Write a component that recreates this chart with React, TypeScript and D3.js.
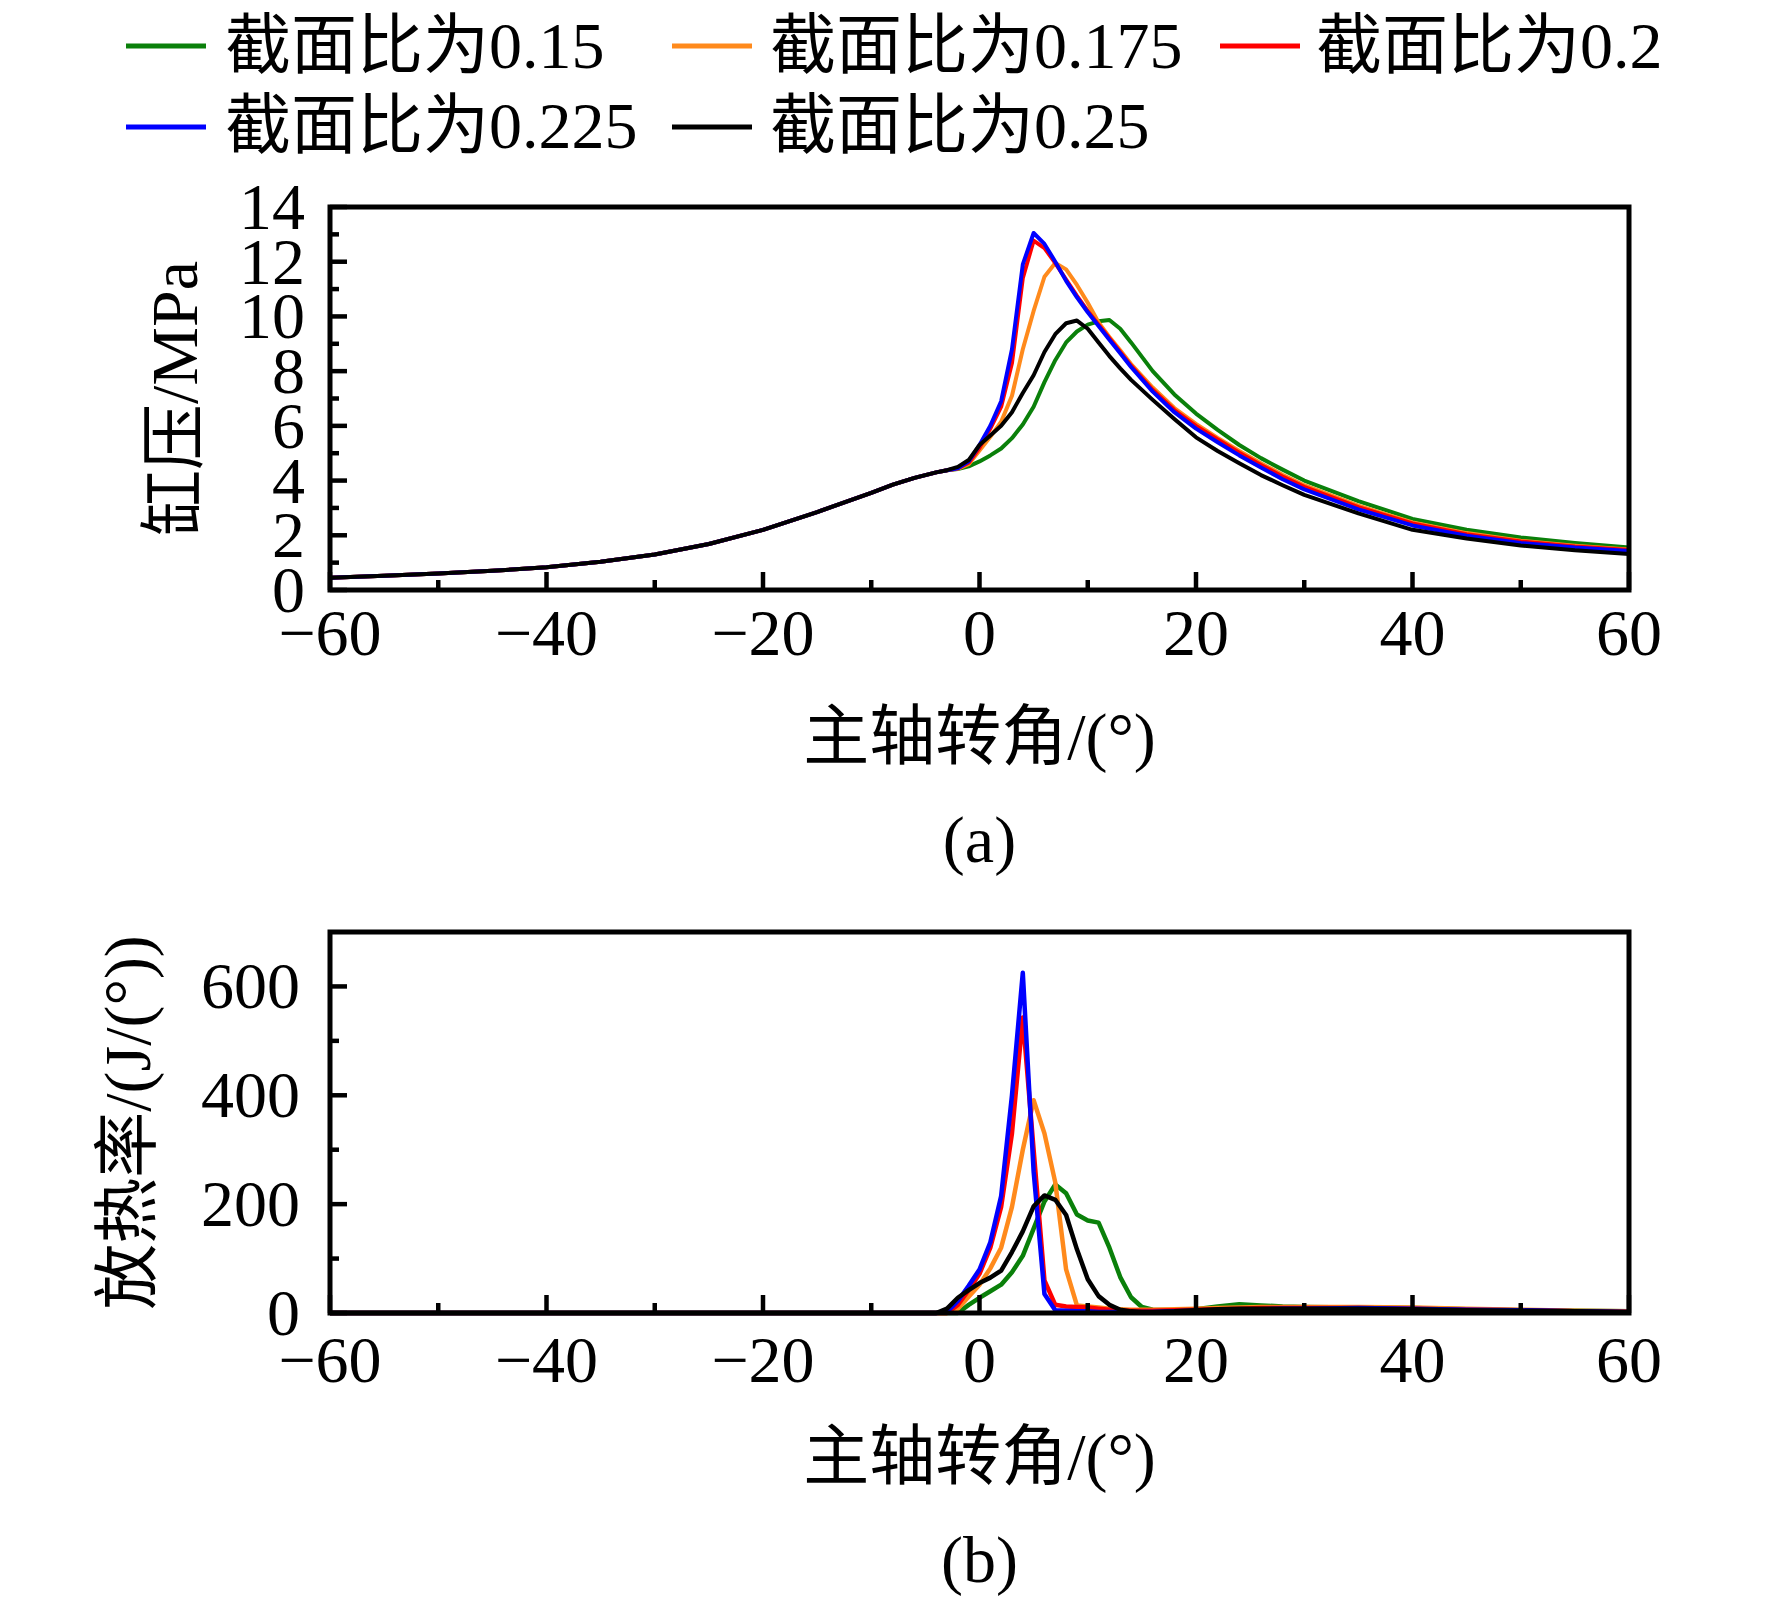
import React from 'react';
import * as d3 from 'd3';

// ---------- data ----------
const seriesNames = ['截面比为0.15', '截面比为0.175', '截面比为0.2', '截面比为0.225', '截面比为0.25'];
const seriesColors = ['#0a800a', '#ff8a1c', '#ff0000', '#0000ff', '#000000'];

// crank angle (°) for cylinder pressure curves
const anglesA = [-60, -55, -50, -45, -40, -35, -30, -25, -20, -15, -10, -8, -6, -4, -3, -2, -1,
  0, 1, 2, 3, 4, 5, 6, 7, 8, 9, 10, 11, 12, 13, 14, 16, 18, 20, 22, 24, 26, 28, 30, 35, 40, 45, 50, 55, 60];

// cylinder pressure (MPa)
const pressure015 = [0.45, 0.52, 0.6, 0.7, 0.83, 1.03, 1.3, 1.68, 2.2, 2.85, 3.55, 3.85, 4.1, 4.3, 4.38, 4.42, 4.52,
  4.7, 4.92, 5.17, 5.55, 6.05, 6.7, 7.6, 8.4, 9.05, 9.45, 9.7, 9.82, 9.87, 9.55, 9.05, 8.0, 7.15, 6.45, 5.85, 5.3, 4.82, 4.4, 4.0,
  3.25, 2.6, 2.2, 1.92, 1.72, 1.55];
const pressure0175 = [0.45, 0.52, 0.6, 0.7, 0.83, 1.03, 1.3, 1.68, 2.2, 2.85, 3.55, 3.85, 4.1, 4.3, 4.38, 4.43, 4.6,
  5.1, 5.6, 6.15, 7.1, 8.8, 10.2, 11.45, 11.95, 11.72, 11.15, 10.5, 9.78, 9.25, 8.76, 8.26, 7.4, 6.65, 6.07, 5.56, 5.08, 4.63, 4.21, 3.83,
  3.08, 2.47, 2.08, 1.8, 1.62, 1.48];
const pressure02 = [0.45, 0.52, 0.6, 0.7, 0.83, 1.03, 1.3, 1.68, 2.2, 2.85, 3.55, 3.85, 4.1, 4.3, 4.38, 4.45, 4.65,
  5.2, 5.9, 6.7, 8.3, 11.4, 12.77, 12.5, 11.95, 11.35, 10.75, 10.2, 9.7, 9.2, 8.7, 8.2, 7.32, 6.58, 6.0, 5.5, 5.02, 4.57, 4.15, 3.77,
  3.03, 2.43, 2.04, 1.77, 1.59, 1.46];
const pressure0225 = [0.45, 0.52, 0.6, 0.7, 0.83, 1.03, 1.3, 1.68, 2.2, 2.85, 3.55, 3.85, 4.1, 4.3, 4.38, 4.45, 4.7,
  5.3, 6.0, 6.9, 8.8, 11.9, 13.05, 12.65, 12.0, 11.3, 10.7, 10.15, 9.65, 9.15, 8.65, 8.15, 7.25, 6.5, 5.9, 5.4, 4.92, 4.48, 4.05, 3.68,
  2.95, 2.36, 1.98, 1.72, 1.55, 1.43];
const pressure025 = [0.45, 0.52, 0.6, 0.7, 0.83, 1.03, 1.3, 1.68, 2.2, 2.85, 3.55, 3.85, 4.1, 4.3, 4.38, 4.5, 4.75,
  5.3, 5.65, 6.0, 6.5, 7.2, 7.85, 8.7, 9.35, 9.75, 9.85, 9.55, 9.05, 8.55, 8.1, 7.68, 6.95, 6.25, 5.58, 5.08, 4.63, 4.2, 3.83, 3.48,
  2.8, 2.2, 1.88, 1.63, 1.45, 1.32];

// crank angle (°) for heat release rate curves
const anglesB = [-60, -5, -4, -3, -2, -1,
  0, 1, 2, 3, 4, 5, 6, 7, 8, 9, 10, 11, 12, 13, 14, 15, 16, 18, 20, 22, 24, 26, 28, 30, 35, 40, 45, 50, 55, 60];

// heat release rate (J/(°))
const heat015 = [0, 0, 0, 0, 0, 15,
  28, 40, 52, 75, 105, 155, 205, 236, 220, 181, 170, 166, 120, 66, 29, 11, 6, 5, 7, 12, 16, 14, 12, 11, 10, 9, 7, 5, 4, 3];
const heat0175 = [0, 0, 0, 0, 8, 30,
  52, 82, 120, 195, 300, 391, 330, 240, 80, 14, 12, 10, 8, 7, 6, 6, 6, 7, 8, 9, 10, 11, 11, 11, 11, 10, 8, 6, 4, 3];
const heat02 = [0, 0, 0, 0, 15, 42,
  72, 120, 195, 330, 543, 300, 60, 15, 12, 11, 10, 8, 6, 5, 4, 4, 4, 5, 6, 7, 8, 9, 9, 9, 9, 8, 6, 5, 3, 2];
const heat0225 = [0, 0, 0, 2, 22, 50,
  80, 130, 215, 400, 625, 260, 35, 5, 4, 3, 3, 2, 2, 2, 2, 2, 2, 3, 4, 5, 6, 7, 8, 8, 9, 8, 6, 5, 3, 2];
const heat025 = [0, 0, 0, 8, 28, 42,
  55, 65, 78, 112, 150, 196, 216, 208, 180, 117, 62, 31, 15, 6, 3, 2, 2, 3, 5, 7, 8, 8, 8, 8, 8, 7, 5, 4, 3, 2];

const xTicksMajor = [-60, -40, -20, 0, 20, 40, 60];
const xTicksMinor = [-50, -30, -10, 10, 30, 50];
const yTicksMajorA = [0, 2, 4, 6, 8, 10, 12, 14];
const yTicksMinorA = [1, 3, 5, 7, 9, 11, 13];
const yTicksMajorB = [0, 200, 400, 600];
const yTicksMinorB = [100, 300, 500];

const pressureSeries = [pressure015, pressure0175, pressure02, pressure0225, pressure025];
const heatSeries = [heat015, heat0175, heat02, heat0225, heat025];

// ---------- layout ----------
const W = 1772;
const H = 1605;
const FONT = '"Liberation Serif", "Times New Roman", "Noto Sans CJK SC", serif';
const fmt = d3.format('');

type PanelProps = {
  angles: number[];
  series: number[][];
  yDomain: [number, number];
  top: number;
  bottom: number;
  yMajor: number[];
  yMinor: number[];
  yLabelRight: number;
  yTitle: string;
  yTitleX: number;
  xLabelBaseline: number;
  xTitleBaseline: number;
  caption: string;
  captionBaseline: number;
  lineWidth: number;
};

const Panel: React.FC<PanelProps> = (p) => {
  const x = d3.scaleLinear().domain([-60, 60]).range([330, 1629]);
  const y = d3.scaleLinear().domain(p.yDomain).range([p.bottom, p.top]);
  const line = d3.line<[number, number]>().x((d) => x(d[0])).y((d) => y(d[1])).curve(d3.curveLinear);
  const x0 = x.range()[0];
  const x1 = x.range()[1];
  const order = [0, 1, 2, 3, 4];
  return (
    <g>
      {order.map((i) => (
        <path
          key={i}
          d={line(p.angles.map((a, k) => [a, p.series[i][k]] as [number, number])) || ''}
          fill="none"
          stroke={seriesColors[i]}
          strokeWidth={p.lineWidth}
          strokeLinejoin="round"
        />
      ))}
      {/* ticks */}
      {xTicksMajor.map((t) => (
        <line key={'xM' + t} x1={x(t)} x2={x(t)} y1={p.bottom} y2={p.bottom - 18} stroke="#000" strokeWidth={4.5} />
      ))}
      {xTicksMinor.map((t) => (
        <line key={'xm' + t} x1={x(t)} x2={x(t)} y1={p.bottom} y2={p.bottom - 10} stroke="#000" strokeWidth={4.5} />
      ))}
      {p.yMajor.map((t) => (
        <line key={'yM' + t} x1={x0} x2={x0 + 17} y1={y(t)} y2={y(t)} stroke="#000" strokeWidth={4.5} />
      ))}
      {p.yMinor.map((t) => (
        <line key={'ym' + t} x1={x0} x2={x0 + 9} y1={y(t)} y2={y(t)} stroke="#000" strokeWidth={4.5} />
      ))}
      <rect x={x0} y={p.top} width={x1 - x0} height={p.bottom - p.top} fill="none" stroke="#000" strokeWidth={5} />
      {/* tick labels */}
      {xTicksMajor.map((t) => (
        <text key={'xl' + t} x={x(t)} y={p.xLabelBaseline} textAnchor="middle" fontSize={66} fontFamily={FONT}>
          {fmt(t)}
        </text>
      ))}
      {p.yMajor.map((t) => (
        <text key={'yl' + t} x={p.yLabelRight} y={y(t) + 22} textAnchor="end" fontSize={66} fontFamily={FONT}>
          {fmt(t)}
        </text>
      ))}
      <text x={x(0)} y={p.xTitleBaseline} textAnchor="middle" fontSize={66} fontFamily={FONT}>
        主轴转角/(°)
      </text>
      <text
        transform={`translate(${p.yTitleX},${(p.top + p.bottom) / 2}) rotate(-90)`}
        textAnchor="middle"
        dominantBaseline="central"
        fontSize={66}
        fontFamily={FONT}
      >
        {p.yTitle}
      </text>
      <text x={x(0)} y={p.captionBaseline} textAnchor="middle" fontSize={66} fontFamily={FONT}>
        {p.caption}
      </text>
    </g>
  );
};

const legendLayout = [
  { lx: 126, tx: 225, ly: 46, ty: 68 },
  { lx: 672, tx: 770, ly: 46, ty: 68 },
  { lx: 1220, tx: 1316, ly: 46, ty: 68 },
  { lx: 126, tx: 225, ly: 127, ty: 148 },
  { lx: 672, tx: 770, ly: 127, ty: 148 },
];

export default function App() {
  return (
    <div style={{ position: 'absolute', left: 0, top: 0, width: W, height: H, background: '#fff' }}>
      <svg width={W} height={H} viewBox={`0 0 ${W} ${H}`} style={{ display: 'block' }}>
        <rect x={0} y={0} width={W} height={H} fill="#fff" />
        {seriesNames.map((name, i) => (
          <g key={name}>
            <line
              x1={legendLayout[i].lx}
              x2={legendLayout[i].lx + 80}
              y1={legendLayout[i].ly}
              y2={legendLayout[i].ly}
              stroke={seriesColors[i]}
              strokeWidth={5}
            />
            <text x={legendLayout[i].tx} y={legendLayout[i].ty} fontSize={66} fontFamily={FONT}>
              {name}
            </text>
          </g>
        ))}
        <Panel
          angles={anglesA}
          series={pressureSeries}
          yDomain={[0, 14]}
          top={207}
          bottom={590}
          yMajor={yTicksMajorA}
          yMinor={yTicksMinorA}
          yLabelRight={305}
          yTitle="缸压/MPa"
          yTitleX={174}
          xLabelBaseline={655}
          xTitleBaseline={759}
          caption="(a)"
          captionBaseline={862}
          lineWidth={4}
        />
        <Panel
          angles={anglesB}
          series={heatSeries}
          yDomain={[0, 700]}
          top={932}
          bottom={1313}
          yMajor={yTicksMajorB}
          yMinor={yTicksMinorB}
          yLabelRight={300}
          yTitle="放热率/(J/(°))"
          yTitleX={127}
          xLabelBaseline={1382}
          xTitleBaseline={1479}
          caption="(b)"
          captionBaseline={1582}
          lineWidth={4.5}
        />
      </svg>
    </div>
  );
}
